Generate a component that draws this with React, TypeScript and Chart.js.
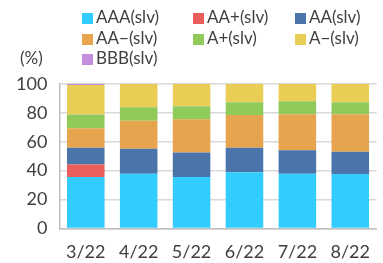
import React, { useEffect, useRef } from "react";
import { Chart, registerables } from "chart.js";

Chart.register(...registerables);

const categories = ["3/22", "4/22", "5/22", "6/22", "7/22", "8/22"];
const seriesNames = ["AAA(slv)", "AA+(slv)", "AA(slv)", "AA\u2212(slv)", "A+(slv)", "A\u2212(slv)", "BBB(slv)"];
const seriesColors = ["#33CCFF", "#E95E5A", "#4A74AA", "#E5A44D", "#8FCA5B", "#EACD55", "#C38EDD"];
const aaa = [35.6, 37.9, 35.6, 38.8, 37.9, 37.7];
const aaPlus = [8.7, 0, 0, 0, 0, 0];
const aa = [11.6, 17.3, 17.0, 17.1, 16.3, 15.4];
const aaMinus = [13.5, 19.3, 23.0, 22.7, 24.8, 25.9];
const aPlus = [9.4, 9.4, 9.0, 8.7, 9.0, 8.3];
const aMinus = [20.5, 16.1, 15.4, 12.7, 12.0, 12.7];
const bbb = [0.7, 0, 0, 0, 0, 0];
const seriesValues = [aaa, aaPlus, aa, aaMinus, aPlus, aMinus, bbb];
const yTicks = [0, 20, 40, 60, 80, 100];

const FONT = "Lato, 'Open Sans', sans-serif";
const TEXT = "#404040";

const legendPlugin = {
  id: "gridLegend",
  afterDraw(chart: any) {
    const ctx = chart.ctx;
    ctx.save();
    ctx.font = `17px ${FONT}`;
    ctx.textBaseline = "middle";
    ctx.textAlign = "left";
    const colX = [82, 193, 295];
    const rowY = [18, 39, 59];
    seriesNames.forEach((name, i) => {
      const col = i % 3;
      const row = Math.floor(i / 3);
      const x = colX[col];
      const y = rowY[row];
      ctx.fillStyle = seriesColors[i];
      ctx.fillRect(x, y - 5, 11, 11);
      ctx.fillStyle = TEXT;
      ctx.fillText(name, x + 14, y);
    });
    ctx.fillText("(%)", 20, 59);
    ctx.restore();
  },
};

export default function App() {
  const ref = useRef<HTMLCanvasElement>(null);
  useEffect(() => {
    document.body.style.margin = "0";
    const chart = new Chart(ref.current!, {
      type: "bar",
      data: {
        labels: categories,
        datasets: seriesNames.map((name, i) => ({
          label: name,
          data: seriesValues[i],
          backgroundColor: seriesColors[i],
          borderWidth: 0,
          barPercentage: 0.71,
          categoryPercentage: 1,
        })),
      },
      options: {
        animation: false,
        responsive: false,
        maintainAspectRatio: false,
        layout: { padding: { top: 84, left: 4, right: 0, bottom: -13 } },
        plugins: { legend: { display: false }, tooltip: { enabled: false } },
        scales: {
          x: {
            stacked: true,
            grid: { display: false, drawTicks: false },
            border: { color: "#BFBFBF", width: 1.5 },
            ticks: { color: TEXT, font: { family: FONT, size: 18 }, padding: 13 },
          },
          y: {
            stacked: true,
            min: 0,
            max: 100,
            afterBuildTicks: (axis: any) => {
              axis.ticks = yTicks.map((v) => ({ value: v }));
            },
            grid: { color: "#D9D9D9", lineWidth: 1.5, drawTicks: false },
            border: { color: "#BFBFBF", width: 1.5 },
            ticks: { color: TEXT, font: { family: FONT, size: 18 }, padding: 12 },
          },
        },
      },
      plugins: [legendPlugin],
    });
    return () => chart.destroy();
  }, []);
  return <canvas ref={ref} width={383} height={263} style={{ display: "block" }} />;
}
